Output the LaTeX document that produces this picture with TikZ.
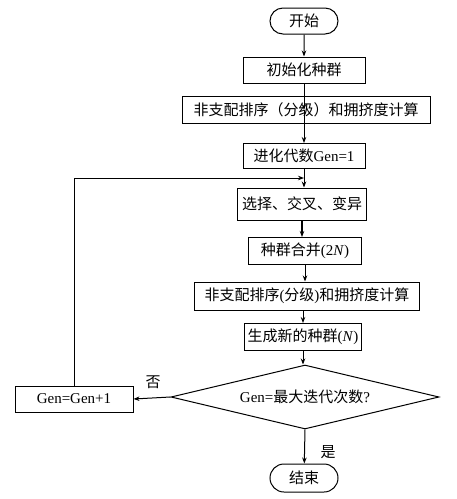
\documentclass[tikz,border=0pt]{standalone}
\usepackage{fontspec}
\setmainfont{Liberation Serif}
\newfontfamily\cjk{Noto Sans CJK SC}
\usetikzlibrary{shapes.geometric,shapes.misc,arrows.meta}
\begin{document}
\begin{tikzpicture}[x=1pt,y=-1pt,line width=1pt,>={Stealth[length=6pt,width=4.5pt]}]
\tikzstyle{box}=[draw, rectangle, inner sep=0pt, font=\fontsize{15}{17}\selectfont]
\tikzstyle{term}=[draw, rounded rectangle, inner sep=0pt, minimum width=68pt, minimum height=26pt, font=\fontsize{15}{17}\selectfont]
\tikzstyle{test}=[draw, diamond, aspect=4.2, inner sep=0pt, minimum width=268pt, minimum height=64pt, font=\fontsize{15}{17}\selectfont]
\useasboundingbox (0,0) rectangle (457,499);

\node[term] (start) at (304, 21) {\cjk 开始};
\node[box, minimum width=122pt, minimum height=26pt] (init) at (304, 70) {\cjk 初始化种群};
\node[box, minimum width=248pt, minimum height=27pt] (sort1) at (306, 110) {\cjk 非支配排序（分级）和拥挤度计算};
\node[box, minimum width=122pt, minimum height=25pt] (gen1) at (304, 156) {{\cjk 进化代数}Gen=1};
\node[box, minimum width=129pt, minimum height=32pt] (sel) at (302, 204) {\cjk 选择、交叉、变异};
\node[box, minimum width=113pt, minimum height=27pt] (merge) at (305, 251) {{\cjk 种群合并}(2\textit{N})};
\node[box, minimum width=225pt, minimum height=28pt] (sort2) at (307, 296) {{\cjk 非支配排序}({\cjk 分级}){\cjk 和拥挤度计算}};
\node[box, minimum width=117pt, minimum height=27pt] (newpop) at (303, 337) {{\cjk 生成新的种群}(\textit{N})};
\node[test] (check) at (305, 397) {Gen={\cjk 最大迭代次数}?};
\node[box, minimum width=118pt, minimum height=26pt] (inc) at (74, 399) {Gen=Gen+1};
\node[term, minimum height=28pt] (end) at (304, 478) {\cjk 结束};
\coordinate (join) at (304, 178);

\node[font=\fontsize{15}{17}\selectfont\cjk] (no) at (153, 382) {否};
\node[font=\fontsize{15}{17}\selectfont\cjk] (yes) at (328, 452) {是};

\draw[->] (start) -- (init);
\draw[->] (init) -- (sort1 -| init);
\draw[->] (sort1 -| gen1) -- (gen1);
\draw[->] (gen1) -- (sel.north -| gen1);
\draw[->, line width=2pt] (sel) -- (merge.north -| sel);
\draw[->] (merge) -- (sort2.north -| merge);
\draw[->] (sort2.south -| newpop) -- (newpop);
\draw[->] (newpop) -- (check.north -| newpop);
\draw[->] (check.west) -- (inc.east);
\draw[->] (inc.north) |- (join);
\draw[->] (check.south) -- (end);
\end{tikzpicture}
\end{document}
